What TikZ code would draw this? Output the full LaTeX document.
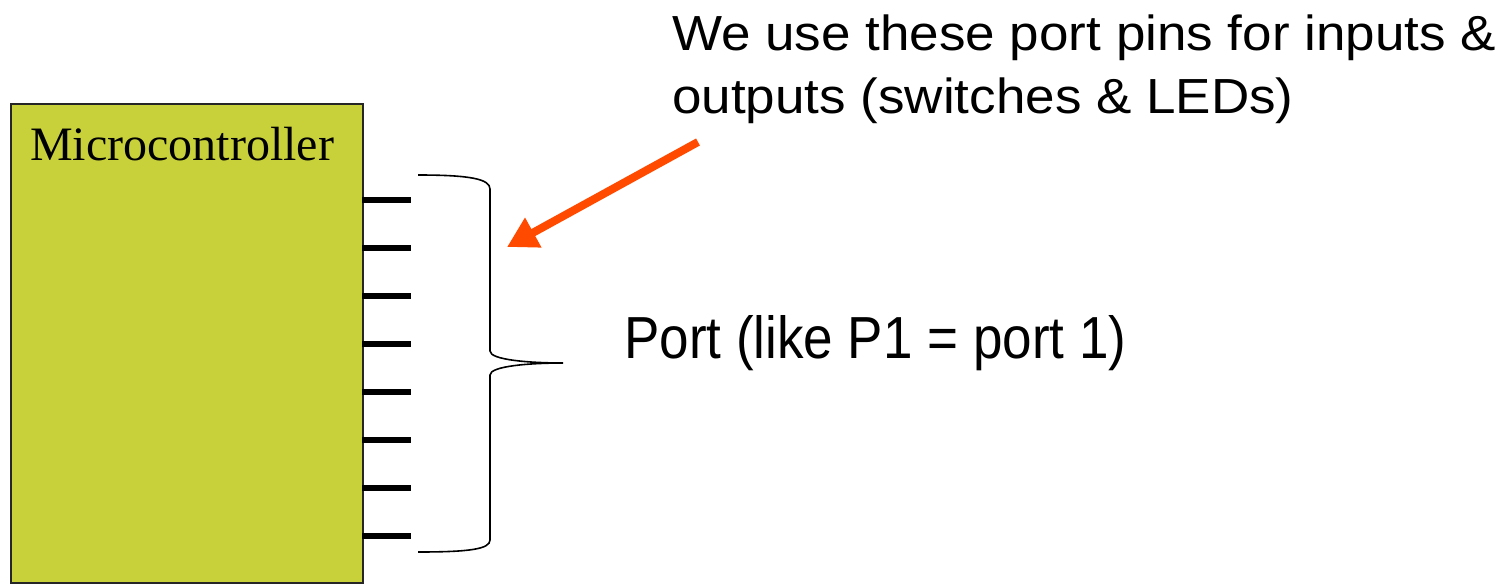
\documentclass[tikz,border=0pt]{standalone}
\usepackage{fontspec}
\setmainfont{Liberation Serif}
\newfontfamily\arialf{Liberation Sans}
\usetikzlibrary{arrows.meta}
\definecolor{chipfill}{RGB}{200,209,58}
\definecolor{arrowred}{RGB}{255,74,0}
\tikzset{
  chip/.style={draw=black!85, line width=1.5pt, fill=chipfill, minimum width=352pt, minimum height=479pt, inner sep=0pt, anchor=north west},
  pin/.style={line width=5.5pt},
  bracepath/.style={line width=1.6pt},
  callout/.style={draw=arrowred, line width=8pt, -{Triangle[length=30pt,width=32pt]}},
  lbl/.style={inner sep=0pt, anchor=base west, font=\arialf\fontsize{53}{60}\selectfont},
}
\begin{document}
\begin{tikzpicture}[x=1pt,y=-1pt]
\useasboundingbox (0,0) rectangle (1505,584);
\node[chip] (mc) at (10,103) {};
\node[inner sep=0pt, anchor=base west, font=\fontsize{48}{52}\selectfont] (mclabel) at (30,160) {Microcontroller};
\foreach \i in {0,...,7} {
  \coordinate (p\i) at (362,200+48*\i);
  \draw[pin] (p\i) -- ++(49,0);
}
\coordinate (bt) at (418,175);
\coordinate (bm) at (563,363);
\coordinate (bb) at (418,552);
\draw[bracepath] (bt) .. controls (470,175) and (490,179) .. (490,189)
  -- (490,351) .. controls (490,360) and (530,363) .. (bm)
  .. controls (530,363) and (490,366) .. (490,375)
  -- (490,540) .. controls (490,549) and (470,552) .. (bb);
\node[lbl] (q1) at (672,50) {\scalebox{1}[0.93]{We use these port pins for inputs \&}};
\node[lbl] (q2) at (672,113) {\scalebox{1}[0.93]{outputs (switches \& LEDs)}};
\node[lbl] (port) at (624,358) {\scalebox{1}[1.12]{Port (like P1 = port 1)}};
\coordinate (as) at (698,142);
\coordinate (ae) at (507,247);
\draw[callout] (as) -- (ae);
\end{tikzpicture}
\end{document}
